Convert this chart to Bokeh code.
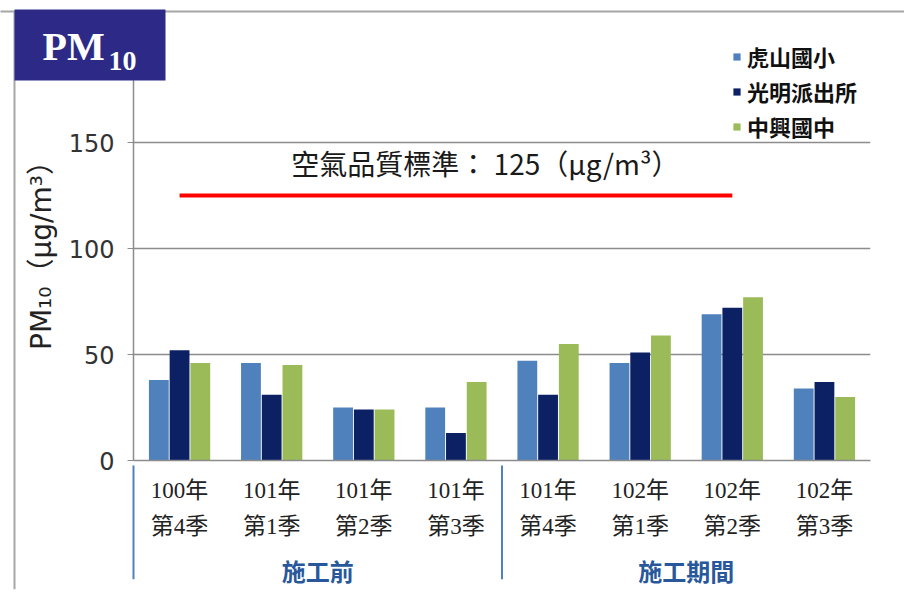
from bokeh.plotting import figure
from bokeh.models import (FactorRange, Range1d, FixedTicker, Legend, LegendItem,
                          ColumnDataSource)
from bokeh.transform import dodge
from bokeh.core.properties import value
from bokeh.embed import file_html
from bokeh.resources import INLINE

# ---------------- data ----------------
periods = ["施工前"] * 4 + ["施工期間"] * 4
quarters = ["100年\n第4季", "101年\n第1季", "101年\n第2季", "101年\n第3季",
            "101年\n第4季", "102年\n第1季", "102年\n第2季", "102年\n第3季"]
series_names = ["虎山國小", "光明派出所", "中興國中"]
hushan = [38, 46, 25, 25, 47, 46, 69, 34]
guangming = [52, 31, 24, 13, 31, 51, 72, 37]
zhongxing = [46, 45, 24, 37, 55, 59, 77, 30]
standard_value = 125
standard_text = "空氣品質標準： 125（μg/m³）"
y_ticks = [0, 50, 100, 150]
grid_ticks = [50, 100, 150, 200]
colors = ["#4f81bd", "#0c2163", "#9bbb59"]

factors = list(zip(periods, quarters))

# ---------------- layout constants (canvas pixels) ----------------
W, H = 904, 590
FL, FR, FT, FB = 133, 870, 36, 461
Y0, Y1 = 0, 200
NCAT = len(factors)


def dx(px):
    """canvas px -> synthetic categorical x (for decorations outside the frame)"""
    return (px - FL) / (FR - FL) * NCAT


def dy(py):
    """canvas px -> data y (for decorations outside the frame)"""
    return Y0 + (FB - py) / (FB - FT) * (Y1 - Y0)


# ---------------- figure ----------------
p = figure(width=W, height=H, output_backend="svg", toolbar_location=None,
           x_range=FactorRange(*factors, factor_padding=0, group_padding=0, range_padding=0),
           y_range=Range1d(Y0, Y1),
           min_border_left=FL, min_border_right=W - FR, min_border_top=FT,
           min_border_bottom=H - FB)
p.outline_line_color = None
p.background_fill_color = "white"
p.border_fill_color = "white"

# grid
p.xgrid.visible = False
p.ygrid.ticker = FixedTicker(ticks=grid_ticks)
p.ygrid.grid_line_color = "#8c8c8c"
p.ygrid.grid_line_width = 1.5

# y axis
p.yaxis.ticker = FixedTicker(ticks=y_ticks)
p.yaxis.axis_line_color = "#8c8c8c"
p.yaxis.axis_line_width = 1.5
p.yaxis.major_tick_line_color = "#8c8c8c"
p.yaxis.major_tick_out = 6
p.yaxis.major_tick_in = 0
p.yaxis.minor_tick_line_color = None
p.yaxis.major_label_text_font = "DejaVu Sans"
p.yaxis.major_label_text_font_size = "24px"
p.yaxis.major_label_text_color = "#333333"
p.yaxis.major_label_standoff = 13
p.yaxis.axis_label = "PM₁₀（μg/m³）"
p.yaxis.axis_label_text_font = "'DejaVu Sans', 'Noto Sans CJK TC'"
p.yaxis.axis_label_text_font_size = "28px"
p.yaxis.axis_label_text_font_style = "normal"
p.yaxis.axis_label_text_color = "#222222"
p.yaxis.axis_label_standoff = 8

# x axis
p.xaxis.axis_line_color = "#8c8c8c"
p.xaxis.axis_line_width = 1.5
p.xaxis.major_tick_line_color = None
p.xaxis.minor_tick_line_color = None
p.xaxis.major_label_text_font = "'Liberation Serif', 'Noto Sans CJK TC'"
p.xaxis.major_label_text_font_size = "23px"
p.xaxis.major_label_text_color = "#222222"
p.xaxis.major_label_text_line_height = 1.45
p.xaxis.major_label_standoff = 11
p.xaxis.group_text_font = "Noto Sans CJK TC"
p.xaxis.group_text_font_size = "24px"
p.xaxis.group_text_font_style = "bold"
p.xaxis.group_text_color = "#28589b"
p.xaxis.separator_line_color = None

# bars
src = ColumnDataSource(dict(x=factors, a=hushan, b=guangming, c=zhongxing))
offsets = [-0.225, 0.0, 0.225]
renderers = []
for col, off, color in zip(["a", "b", "c"], offsets, colors):
    r = p.vbar(x=dodge("x", off, range=p.x_range), top=col, width=0.215,
               source=src, fill_color=color, line_color=None)
    renderers.append(r)

# air-quality standard line + label
p.line(x=[factors[0], factors[6]], y=[standard_value, standard_value],
       line_color="#ff0000", line_width=4)
p.text(x=[factors[3] + (0.32,)], y=[dy(163)], text=[standard_text],
       text_font=value("Noto Sans CJK TC"), text_font_size="28px",
       text_color="#1a1a1a", text_align="center", text_baseline="middle")

# group separators (below axis)
sep_x = [factors[0] + (-0.5,), factors[4] + (-0.5,)]
p.segment(x0=sep_x, x1=sep_x, y0=[dy(466)] * 2, y1=[dy(580)] * 2,
          line_color="#4f81bd", line_width=2, level="overlay")

# legend
legend = Legend(items=[LegendItem(label=n, renderers=[r]) for n, r in zip(series_names, renderers)],
                location=(732 - FL, FB - 143), border_line_color=None, background_fill_alpha=0,
                padding=0, margin=0, glyph_width=9, glyph_height=9, label_standoff=6,
                label_height=26, spacing=3,
                label_text_font="Noto Sans CJK TC", label_text_font_size="22px",
                label_text_font_style="bold", label_text_color="#111111")
p.add_layout(legend)

# slide frame lines (outside the plot frame, drawn at overlay level)
p.segment(x0=[dx(0), dx(14)], x1=[dx(W), dx(14)], y0=[dy(11), dy(11)], y1=[dy(11), dy(H)],
          line_color="#a6a6a6", line_width=2, level="overlay")
# PM10 badge
p.quad(left=[dx(14)], right=[dx(165)], top=[dy(9)], bottom=[dy(80)],
       fill_color="#2c2a86", line_color=None, level="overlay")
p.text(x=[dx(42)], y=[dy(46)], text=["PM"], text_font=value("Liberation Serif"),
       text_font_size="40px", text_font_style="bold", text_color="white",
       text_baseline="middle", level="overlay")
p.text(x=[dx(108)], y=[dy(61)], text=["10"], text_font=value("Liberation Serif"),
       text_font_size="28px", text_font_style="bold", text_color="white",
       text_baseline="middle", level="overlay")

open("out.html", "w").write(file_html(p, INLINE))
